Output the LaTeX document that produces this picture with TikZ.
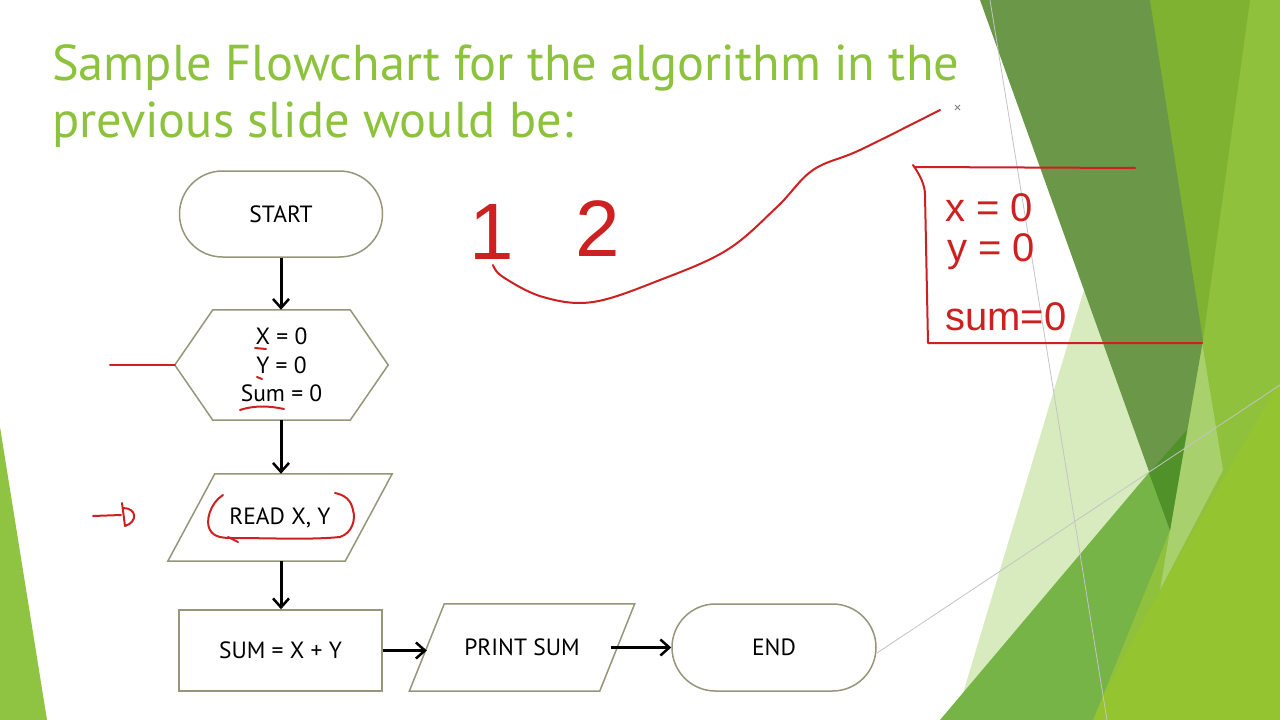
\documentclass[tikz,border=0pt]{standalone}
\usepackage{fontspec}
\setmainfont{PT Sans}
\newfontfamily\handfont{Liberation Sans}
\usetikzlibrary{arrows.meta,calc,shapes.misc}
\definecolor{titlegreen}{RGB}{140,194,60}
\definecolor{nodeline}{RGB}{150,150,122}
\definecolor{inkred}{RGB}{205,32,32}
\definecolor{gR}{RGB}{143,193,60}
\definecolor{gO}{RGB}{128,178,50}
\definecolor{gS}{RGB}{168,208,108}
\definecolor{gY}{RGB}{148,196,48}
\definecolor{gP}{RGB}{216,235,190}
\definecolor{gM}{RGB}{118,180,72}
\definecolor{gD}{RGB}{106,152,72}
\definecolor{gDM}{RGB}{80,145,42}
\definecolor{gL}{RGB}{142,196,66}
\definecolor{thinline}{RGB}{196,196,196}
\tikzset{
  flowtext/.style={font=\fontsize{23.5}{28.5}\selectfont, text=black, align=center, inner sep=0pt},
  term/.style={flowtext, rounded rectangle, draw=nodeline, line width=1.5pt},
  procbox/.style={flowtext, rectangle, draw=nodeline, line width=1.5pt},
  ghost/.style={flowtext, rectangle, draw=none},
  outline/.style={draw=nodeline, line width=1.5pt, line join=miter},
  arr/.style={draw=black, line width=3pt, -{Straight Barb[length=9pt,width=16pt,line width=2.5pt]}},
  inkline/.style={draw=inkred, line width=2pt, line cap=round, line join=round},
  hand/.style={text=inkred, font=\handfont\fontsize{40}{40}\selectfont, inner sep=0pt},
  titletext/.style={text=titlegreen, font=\fontsize{50.4}{57}\selectfont, inner sep=0pt, anchor=base west},
}
\begin{document}
\begin{tikzpicture}[x=1pt,y=-1pt]
\useasboundingbox (0,0) rectangle (1280,720);
\fill[white] (0,0) rectangle (1280,720);

% ---- background facets ----
\fill[gL] (0,427) -- (0,720) -- (47,720) -- cycle;
\fill[gR] (1150,0) -- (1280,0) -- (1280,720) -- (1090,720) -- cycle;
\fill[gO] (1150,0) -- (1250,0) -- (1203,340) -- cycle;
\fill[gS] (1200,330) -- (1223,470) -- (1160,590) -- (1170,530) -- cycle;
\fill[gY] (1280,380) -- (1160,590) -- (1090,720) -- (1280,720) -- cycle;
\fill[gP] (1090,270) -- (1160,480) -- (955,720) -- cycle;
\fill[gM] (940,720) -- (1185,430) -- (1170,530) -- (1093,720) -- cycle;
\fill[gD] (980,0) -- (1150,0) -- (1203,340) -- (1170,530) -- cycle;
\fill[gDM] (1149,473) -- (1187,430) -- (1170,530) -- cycle;
\draw[thinline, line width=0.8pt] (990,0) -- (1107,720);
\draw[thinline, line width=0.8pt] (877,653) -- (1280,385);

% ---- title ----
\node[titletext] (title1) at (52,80) {Sample Flowchart for the algorithm in the};
\node[titletext] (title2) at (52,137) {previous slide would be:};

% ---- flowchart ----
\node[term, minimum width=203pt, minimum height=86pt] (start) at (281,214) {START};

\node[ghost, minimum width=213pt, minimum height=110pt] (init) at (281.5,365) {X = 0\\Y = 0\\Sum = 0};
\draw[outline] (init.west) -- ($(init.north west)+(38,0)$) -- ($(init.north east)+(-38,0)$)
  -- (init.east) -- ($(init.south east)+(-38,0)$) -- ($(init.south west)+(38,0)$) -- cycle;

\node[ghost, minimum width=177pt, minimum height=87pt] (read) at (280,517.5) {READ X, Y};
\draw[outline] ($(read.south west)+(-23.5,0)$) -- ($(read.north west)+(23.5,0)$)
  -- ($(read.north east)+(23.5,0)$) -- ($(read.south east)+(-23.5,0)$) -- cycle;

\node[procbox, minimum width=203pt, minimum height=81pt] (sum) at (280.5,650.5) {SUM = X + Y};

\node[ghost, minimum width=190pt, minimum height=87pt] (print) at (522,647.5) {PRINT SUM};
\draw[outline] ($(print.south west)+(-17.5,0)$) -- ($(print.north west)+(17.5,0)$)
  -- ($(print.north east)+(17.5,0)$) -- ($(print.south east)+(-17.5,0)$) -- cycle;

\node[term, minimum width=204pt, minimum height=87pt] (stop) at (774,647.5) {END};

\draw[arr] (start.south) -- (start.south |- init.north);
\draw[arr] (init.south -| start.south) -- (start.south |- read.north);
\draw[arr] (read.south -| start.south) -- (start.south |- sum.north);
\draw[arr] (sum.east) -- (sum.east -| print.west);
\draw[arr] ([xshift=-6pt]print.east) -- (print.east -| stop.west);

% ---- red annotations ----
\coordinate (leftmark) at (110,365);
\draw[inkline] (leftmark) -- (init.west);
\draw[inkline] (255,348) -- (266,349);
\draw[inkline] (257,377) -- (262,379);
\draw[inkline] (240,410) .. controls (255,405) and (270,406) .. (284,409);
\draw[inkline] (223,495) .. controls (210,503) and (205,522) .. (210,530)
  .. controls (214,537) and (222,538) .. (232,538)
  .. controls (270,538) and (310,540) .. (340,537)
  .. controls (352,533) and (356,520) .. (353,510)
  .. controls (351,500) and (345,495) .. (335,493);
\draw[inkline] (228,537) -- (238,542);
\draw[inkline] (93,516) -- (121,515);
\draw[inkline] (122,503) -- (125,526) .. controls (138,522) and (137,508) .. (123,508);

\node[hand, font=\handfont\fontsize{80}{80}\selectfont] (one) at (492,232) {1};
\node[hand, font=\handfont\fontsize{80}{80}\selectfont] (two) at (598,229) {2};
\draw[inkline] plot[smooth, tension=0.6] coordinates {(493,265) (503,277) (543,297) (593,302) (660,280) (727,250) (777,207) (813,170) (860,150) (940,110)};
\draw[gray, line width=0.8pt] (955,105) -- (960,110) (955,110) -- (960,105);

\coordinate (boxtl) at (913,165);
\coordinate (boxtr) at (1135,168);
\coordinate (boxbl) at (928,343);
\coordinate (boxbr) at (1202,343);
\draw[inkline] (boxtr) -- (915,167);
\draw[inkline] (boxtl) .. controls (920,175) and (925,185) .. (925,195) -- (boxbl) -- (boxbr);
\node[hand, anchor=west] (hx) at (945,208) {x = 0};
\node[hand, anchor=west] (hy) at (947,252) {y = 0};
\node[hand, anchor=west] (hs) at (945,317) {sum=0};
\end{tikzpicture}
\end{document}
